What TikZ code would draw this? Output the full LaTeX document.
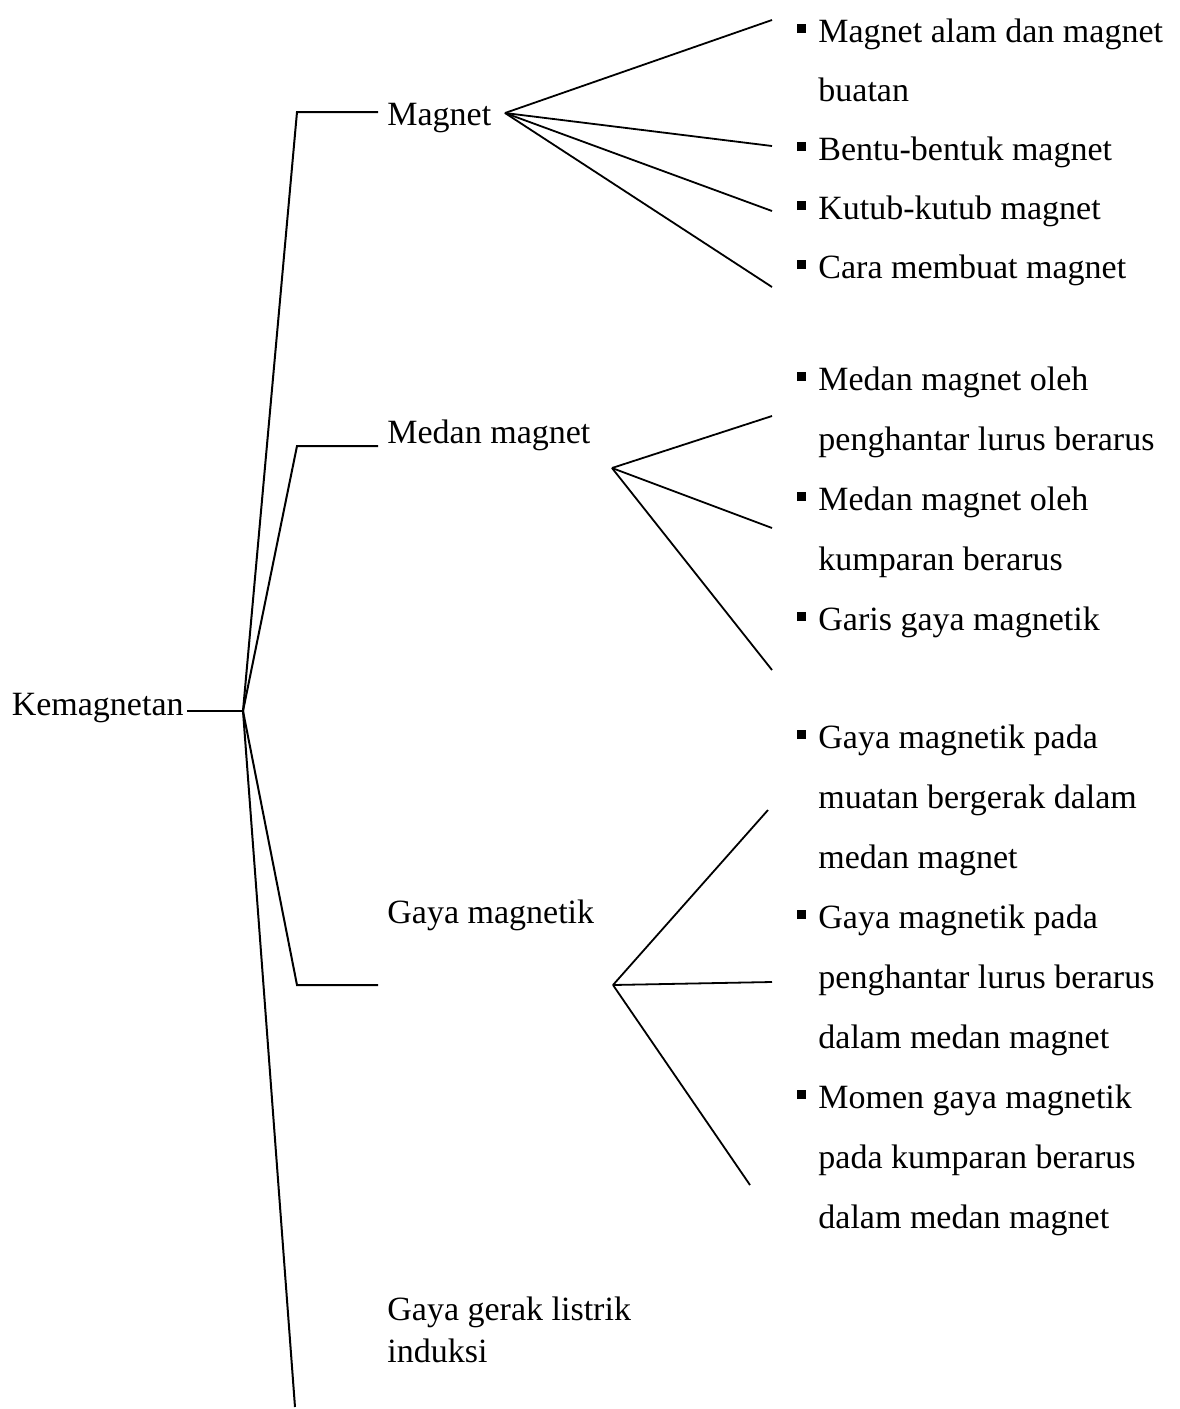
\documentclass[tikz,border=0pt]{standalone}
\usepackage{fontspec}
\setmainfont{Liberation Serif}
\usepackage{tikz}
\usetikzlibrary{positioning}
\newcommand{\sqbul}{\llap{\rule[4.5pt]{4.5pt}{4.5pt}\hspace{6pt}}}
\tikzset{
	topic/.style={inner sep=0pt, anchor=base west, font=\fontsize{17}{21}\selectfont},
	subline/.style={inner sep=0pt, anchor=base west, font=\fontsize{17}{21}\selectfont},
	branch/.style={line width=1pt, line join=miter},
	% fan lines towards the sub-topics
	fan/.style={line width=0.9pt},
}

\begin{document}
\begin{tikzpicture}[x=0.5pt, y=-0.5pt]
	\useasboundingbox (0,0) rectangle (1179,1409);
	% root and main branches
	\node[topic, anchor=base east] (root) at (184,715) {Kemagnetan};
	\coordinate (hub) at (243,711);
	\draw[branch, line width=1.4pt] (root.east |- hub) ++(3,0) -- (hub);
	\node[topic] (magnet) at (387,125) {Magnet};
	\node[topic] (medan) at (387,443) {Medan magnet};
	\node[topic] (gaya) at (387,923) {Gaya magnetik};
	\node[topic] (ggl) at (387,1320) {Gaya gerak listrik};
	\node[topic] (ggl-b) at (387,1362) {induksi};
	\coordinate (kA) at (297,112);  \coordinate (eA) at (378,112);
	\coordinate (kB) at (297,446);  \coordinate (eB) at (378,446);
	\coordinate (kC) at (297,985);  \coordinate (eC) at (378,985);
	\coordinate (kD) at (295,1407);
	\draw[branch] (hub) -- (kA) -- (eA);
	\draw[branch] (hub) -- (kB) -- (eB);
	\draw[branch] (hub) -- (kC) -- (eC);
	\draw[branch] (hub) -- (kD);
	% Magnet
	\coordinate (fA) at (505,113);
	\foreach \y [count=\i] in {20,146,211,287} {
		\coordinate (tA\i) at (772,\y);
		\draw[fan] (fA) -- (tA\i);
	}
	\foreach \t [count=\i from 0] in {{\sqbul Magnet alam dan magnet}, buatan, {\sqbul Bentu-bentuk magnet}, {\sqbul Kutub-kutub magnet}, {\sqbul Cara membuat magnet}}
		\node[subline] (sA\i) at (818,42+59*\i) {\t};
	% Medan magnet
	\coordinate (fB) at (612,468);
	\foreach \y [count=\i] in {416,528,670} {
		\coordinate (tB\i) at (772,\y);
		\draw[fan] (fB) -- (tB\i);
	}
	\foreach \t [count=\i from 0] in {{\sqbul Medan magnet oleh}, penghantar lurus berarus, {\sqbul Medan magnet oleh}, kumparan berarus, {\sqbul Garis gaya magnetik}}
		\node[subline] (sB\i) at (818,390+60*\i) {\t};
	% Gaya magnetik
	\coordinate (fC) at (613,985);
	\foreach \x/\y [count=\i] in {768/810, 772/982, 750/1185} {
		\coordinate (tC\i) at (\x,\y);
		\draw[fan] (fC) -- (tC\i);
	}
	\foreach \t [count=\i from 0] in {{\sqbul Gaya magnetik pada}, muatan bergerak dalam, medan magnet, {\sqbul Gaya magnetik pada}, penghantar lurus berarus, dalam medan magnet, {\sqbul Momen gaya magnetik}, pada kumparan berarus, dalam medan magnet}
		\node[subline] (sC\i) at (818,748+60*\i) {\t};
\end{tikzpicture}
\end{document}
